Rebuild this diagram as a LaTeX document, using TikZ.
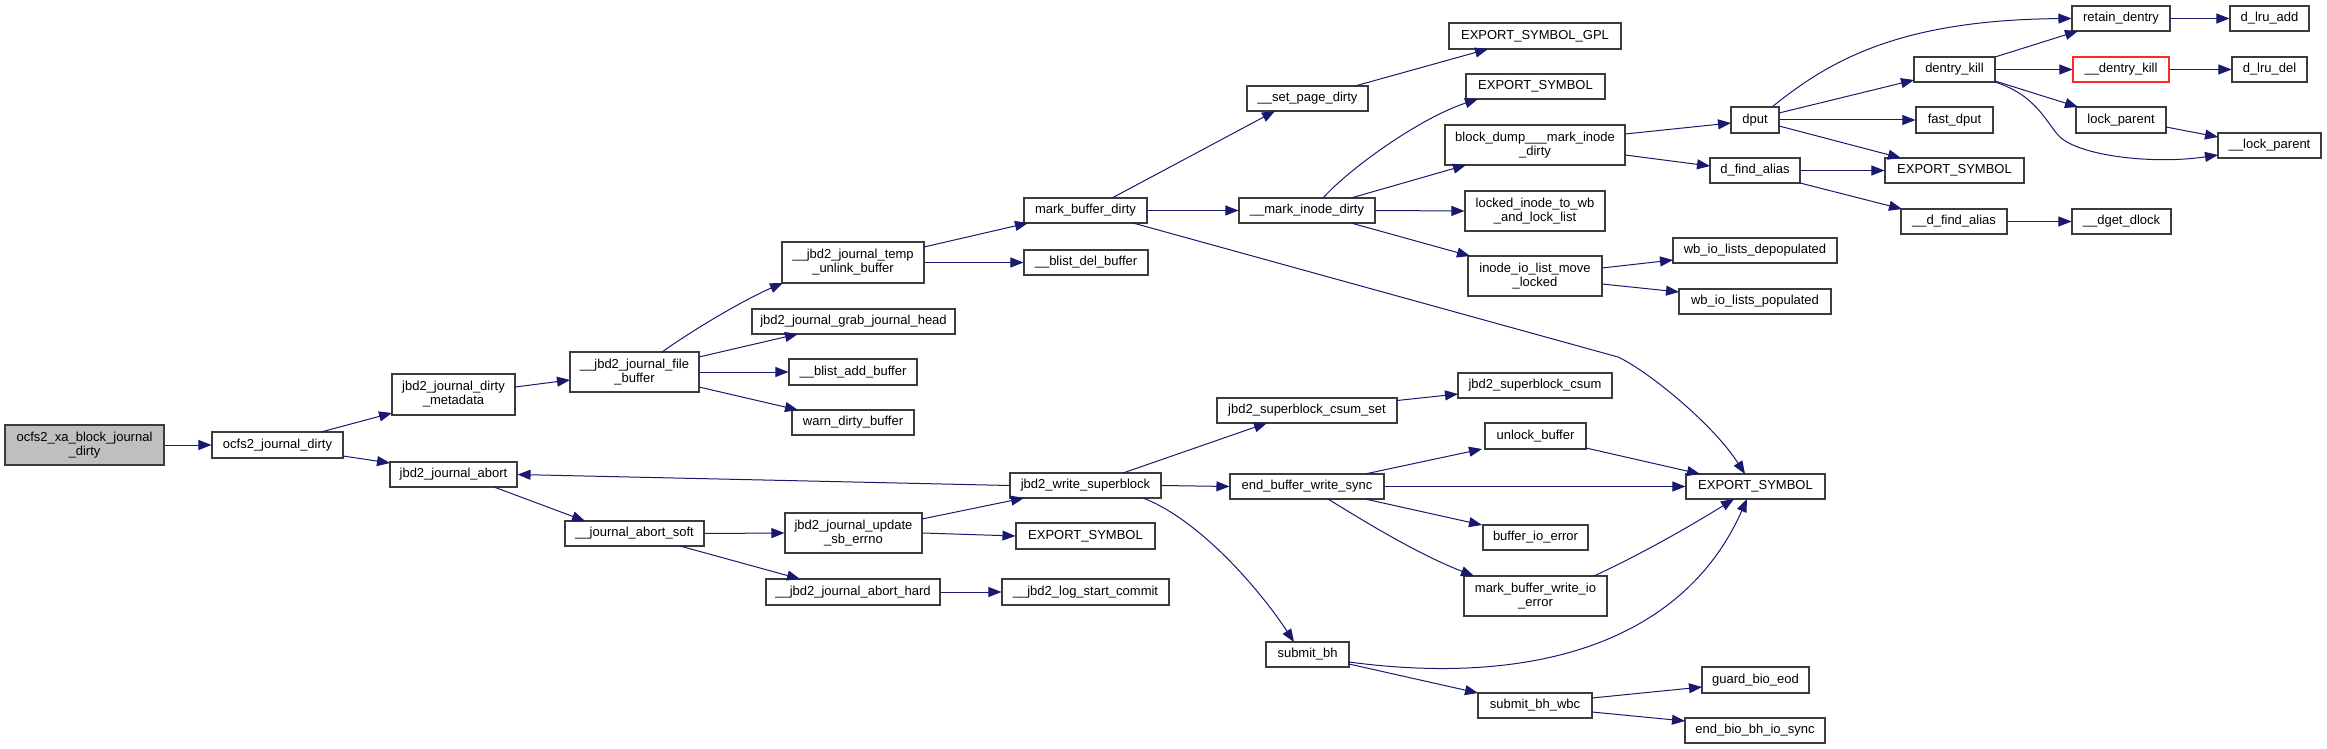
\documentclass[tikz,border=0pt]{standalone}
\usepackage{fontspec}
\setmainfont{Liberation Sans}
\usetikzlibrary{arrows.meta,calc}
\definecolor{edgeblue}{RGB}{25,25,112}
\definecolor{boxline}{RGB}{60,60,60}
\definecolor{rootfill}{RGB}{191,191,191}
\definecolor{redline}{RGB}{255,40,40}
\begin{document}
\begin{tikzpicture}[x=1pt,y=-1pt,
  fn/.style={draw=boxline, line width=1.1pt, rectangle, inner sep=0pt, align=center,
             font=\fontsize{13}{14}\selectfont, fill=white},
  call/.style={draw=edgeblue, line width=1pt, -{Triangle[length=13pt,width=10pt]}}]
\fill[white] (0,0) rectangle (2327,749);
\path[use as bounding box] (0,0) rectangle (2327,749);

% ---------- nodes ----------
\node[fn,fill=rootfill,minimum width=159pt,minimum height=40pt] (root) at (84.5,445) {ocfs2\_xa\_block\_journal\\\_dirty};
\node[fn,minimum width=131pt,minimum height=26pt] (ojd) at (277.5,445) {ocfs2\_journal\_dirty};
\node[fn,minimum width=123pt,minimum height=41pt] (jjdm) at (453.5,394.5) {jbd2\_journal\_dirty\\\_metadata};
\node[fn,minimum width=127pt,minimum height=25pt] (jja) at (453.5,474.5) {jbd2\_journal\_abort};
\node[fn,minimum width=129pt,minimum height=40pt] (jjfb) at (634.5,372) {\_\_jbd2\_journal\_file\\\_buffer};
\node[fn,minimum width=139pt,minimum height=25pt] (abs) at (634.5,533.5) {\_\_journal\_abort\_soft};
\node[fn,minimum width=142pt,minimum height=41pt] (tub) at (853,262.5) {\_\_jbd2\_journal\_temp\\\_unlink\_buffer};
\node[fn,minimum width=203pt,minimum height=25pt] (gjh) at (853.5,321.5) {jbd2\_journal\_grab\_journal\_head};
\node[fn,minimum width=128pt,minimum height=26pt] (bab) at (853,372) {\_\_blist\_add\_buffer};
\node[fn,minimum width=122pt,minimum height=25pt] (wdb) at (853,422.5) {warn\_dirty\_buffer};
\node[fn,minimum width=137pt,minimum height=40pt] (use) at (853.5,533) {jbd2\_journal\_update\\\_sb\_errno};
\node[fn,minimum width=174pt,minimum height=26pt] (ajh) at (853,592) {\_\_jbd2\_journal\_abort\_hard};
\node[fn,minimum width=123pt,minimum height=25pt] (mbd) at (1085.5,210.5) {mark\_buffer\_dirty};
\node[fn,minimum width=124pt,minimum height=25pt] (bdb) at (1086,262.5) {\_\_blist\_del\_buffer};
\node[fn,minimum width=151pt,minimum height=25pt] (jws) at (1085.5,485.5) {jbd2\_write\_superblock};
\node[fn,minimum width=139pt,minimum height=26pt] (es3) at (1085.5,536) {EXPORT\_SYMBOL};
\node[fn,minimum width=167pt,minimum height=26pt] (lsc) at (1085.5,592) {\_\_jbd2\_log\_start\_commit};
\node[fn,minimum width=121pt,minimum height=25pt] (spd) at (1307.5,98.5) {\_\_set\_page\_dirty};
\node[fn,minimum width=136pt,minimum height=25pt] (mid) at (1307,210.5) {\_\_mark\_inode\_dirty};
\node[fn,minimum width=180pt,minimum height=25pt] (cs) at (1307,410.5) {jbd2\_superblock\_csum\_set};
\node[fn,minimum width=154pt,minimum height=25pt] (ebws) at (1307,486.5) {end\_buffer\_write\_sync};
\node[fn,minimum width=83pt,minimum height=25pt] (sbh) at (1307.5,654.5) {submit\_bh};
\node[fn,minimum width=172pt,minimum height=26pt] (gpl) at (1535,36) {EXPORT\_SYMBOL\_GPL};
\node[fn,minimum width=139pt,minimum height=25pt] (es1) at (1535.5,86.5) {EXPORT\_SYMBOL};
\node[fn,minimum width=180pt,minimum height=40pt] (bdm) at (1535,145) {block\_dump\_\_\_mark\_inode\\\_dirty};
\node[fn,minimum width=140pt,minimum height=40pt] (lit) at (1535,211) {locked\_inode\_to\_wb\\\_and\_lock\_list};
\node[fn,minimum width=134pt,minimum height=40pt] (iil) at (1535,276) {inode\_io\_list\_move\\\_locked};
\node[fn,minimum width=154pt,minimum height=25pt] (sbc) at (1535,385.5) {jbd2\_superblock\_csum};
\node[fn,minimum width=101pt,minimum height=26pt] (ub) at (1535.5,436) {unlock\_buffer};
\node[fn,minimum width=105pt,minimum height=25pt] (bie) at (1535.5,537.5) {buffer\_io\_error};
\node[fn,minimum width=143pt,minimum height=40pt] (mbwie) at (1535.5,596) {mark\_buffer\_write\_io\\\_error};
\node[fn,minimum width=114pt,minimum height=25pt] (sbw) at (1535,705.5) {submit\_bh\_wbc};
\node[fn,minimum width=48pt,minimum height=26pt] (dput) at (1755,120) {dput};
\node[fn,minimum width=90pt,minimum height=25pt] (dfa) at (1755,170.5) {d\_find\_alias};
\node[fn,minimum width=164pt,minimum height=25pt] (wbd) at (1755,250.5) {wb\_io\_lists\_depopulated};
\node[fn,minimum width=152pt,minimum height=25pt] (wbp) at (1755,301.5) {wb\_io\_lists\_populated};
\node[fn,minimum width=139pt,minimum height=25pt] (esb) at (1755.5,486.5) {EXPORT\_SYMBOL};
\node[fn,minimum width=107pt,minimum height=26pt] (gbe) at (1755.5,680) {guard\_bio\_eod};
\node[fn,minimum width=140pt,minimum height=25pt] (ebb) at (1755,730.5) {end\_bio\_bh\_io\_sync};
\node[fn,minimum width=81pt,minimum height=25pt] (dk) at (1954.5,69.5) {dentry\_kill};
\node[fn,minimum width=77pt,minimum height=26pt] (fd) at (1954.5,120) {fast\_dput};
\node[fn,minimum width=139pt,minimum height=25pt] (es2) at (1954.5,170.5) {EXPORT\_SYMBOL};
\node[fn,minimum width=106pt,minimum height=25pt] (dfa2) at (1954,221.5) {\_\_d\_find\_alias};
\node[fn,minimum width=98pt,minimum height=25pt] (rd) at (2121,18.5) {retain\_dentry};
\node[fn,draw=redline,minimum width=96pt,minimum height=25pt] (dkk) at (2121,69.5) {\_\_dentry\_kill};
\node[fn,minimum width=90pt,minimum height=26pt] (lp) at (2121,120) {lock\_parent};
\node[fn,minimum width=99pt,minimum height=25pt] (dgd) at (2121.5,221.5) {\_\_dget\_dlock};
\node[fn,minimum width=79pt,minimum height=25pt] (dla) at (2269.5,18.5) {d\_lru\_add};
\node[fn,minimum width=75pt,minimum height=25pt] (dld) at (2269.5,69.5) {d\_lru\_del};
\node[fn,minimum width=103pt,minimum height=25pt] (lpp) at (2269.5,145.5) {\_\_lock\_parent};

\coordinate (v14) at (1618,357);
\coordinate (v34) at (2058,135);

% ---------- edges ----------
\draw[call] (root.east) -- (ojd.west);
\draw[call] ($(ojd)+(43.5,-13)$) -- ($(jjdm)+(-61.5,18.5)$);
\draw[call] ($(ojd)+(65.5,11)$) -- ($(jja)+(-63.5,-11.5)$);
\draw[call] ($(jjdm)+(61.5,-7.5)$) -- ($(jjfb)+(-64.5,8)$);
\draw[call] ($(jja)+(40.5,12.5)$) -- ($(abs)+(-49.5,-12.5)$);
\draw[call] ($(jjfb)+(27.5,-20)$) .. controls (700,325) and (750,297) .. ($(tub)+(-70,20.5)$);
\draw[call] ($(jjfb)+(64.5,-15)$) -- ($(gjh)+(-55.5,12.5)$);
\draw[call] (jjfb.east) -- (bab.west);
\draw[call] ($(jjfb)+(64.5,15)$) -- ($(wdb)+(-55,-12.5)$);
\draw[call] ($(tub)+(71,-15.5)$) -- ($(mbd)+(-57.5,12.5)$);
\draw[call] (tub.east) -- (bdb.west);
\draw[call] ($(mbd)+(26.5,-12.5)$) -- ($(spd)+(-32.5,12.5)$);
\draw[call] (mbd.east) -- (mid.west);
\draw[call] ($(mbd)+(47.5,12.5)$) -- (v14) .. controls (1648,371) and (1713,424) .. ($(esb)+(-10.5,-12.5)$);
\draw[call] ($(spd)+(47.5,-12.5)$) -- ($(gpl)+(-47,13)$);
\draw[call] ($(mid)+(16,-12.5)$) .. controls (1350,168) and (1420,118) .. ($(es1)+(-57.5,12.5)$);
\draw[call] ($(mid)+(44,-12.5)$) -- ($(bdm)+(-69,20)$);
\draw[call] (mid.east) -- (lit.west);
\draw[call] ($(mid)+(44,12.5)$) -- ($(iil)+(-65,-20)$);
\draw[call] ($(bdm)+(90,-11)$) -- ($(dput)+(-24,3)$);
\draw[call] ($(bdm)+(90,10)$) -- ($(dfa)+(-45,-4.5)$);
\draw[call] ($(iil)+(67,-8)$) -- ($(wbd)+(-82,9.5)$);
\draw[call] ($(iil)+(67,8)$) -- ($(wbp)+(-76,-9.5)$);
\draw[call] ($(dput)+(17,-13)$) .. controls (1830,60) and (1900,20) .. (rd.west);
\draw[call] ($(dput)+(24,-7)$) -- ($(dk)+(-40.5,10.5)$);
\draw[call] (dput.east) -- (fd.west);
\draw[call] ($(dput)+(24,6)$) -- ($(es2)+(-53.5,-12.5)$);
\draw[call] (dfa.east) -- (es2.west);
\draw[call] ($(dfa)+(45,12.5)$) -- ($(dfa2)+(-52,-12.5)$);
\draw[call] (dfa2.east) -- (dgd.west);
\draw[call] ($(dk)+(40.5,-12.5)$) -- ($(rd)+(-43,12.5)$);
\draw[call] (dk.east) -- (dkk.west);
\draw[call] ($(dk)+(40.5,11.5)$) -- ($(lp)+(-43,-13)$);
\draw[call] ($(dk)+(40.5,12.5)$) .. controls (2035,95) and (2045,120) .. (v34) .. controls (2075,155) and (2150,165) .. ($(lpp)+(-51.5,9.5)$);
\draw[call] (rd.east) -- (dla.west);
\draw[call] (dkk.east) -- (dld.west);
\draw[call] ($(lp)+(45,7)$) -- ($(lpp)+(-51.5,-8.5)$);
\draw[call] (abs.east) -- (use.west);
\draw[call] ($(abs)+(45.5,12.5)$) -- ($(ajh)+(-53,-13)$);
\draw[call] ($(use)+(68.5,-14)$) -- ($(jws)+(-61.5,12.5)$);
\draw[call] (use.east) -- (es3.west);
\draw[call] (ajh.east) -- (lsc.west);
\draw[call] (jws.west) -- (jja.east);
\draw[call] ($(jws)+(37.5,-12.5)$) -- ($(cs)+(-40,12.5)$);
\draw[call] (jws.east) -- (ebws.west);
\draw[call] ($(jws)+(57.5,12.5)$) .. controls (1200,520) and (1260,590) .. ($(sbh)+(-13.5,-12.5)$);
\draw[call] ($(cs)+(90,-10)$) -- ($(sbc)+(-77,8.5)$);
\draw[call] ($(ebws)+(58,-12.5)$) -- ($(ub)+(-53.5,13)$);
\draw[call] (ebws.east) -- (esb.west);
\draw[call] ($(ebws)+(58,12.5)$) -- ($(bie)+(-53.5,-12.5)$);
\draw[call] ($(ebws)+(21,12.5)$) .. controls (1370,525) and (1420,555) .. ($(mbwie)+(-61.5,-20)$);
\draw[call] ($(ub)+(50.5,12)$) -- ($(esb)+(-55.5,-12.5)$);
\draw[call] ($(mbwie)+(58.5,-20)$) .. controls (1650,550) and (1700,520) .. ($(esb)+(-21.5,12.5)$);
\draw[call] ($(sbh)+(41.5,7.5)$) .. controls (1520,685) and (1680,650) .. ($(esb)+(-8.5,12.5)$);
\draw[call] ($(sbh)+(41.5,9.5)$) -- ($(sbw)+(-57,-12.5)$);
\draw[call] ($(sbw)+(57,-7.5)$) -- ($(gbe)+(-53.5,7)$);
\draw[call] ($(sbw)+(57,6.5)$) -- ($(ebb)+(-70,-9.5)$);
\end{tikzpicture}
\end{document}
